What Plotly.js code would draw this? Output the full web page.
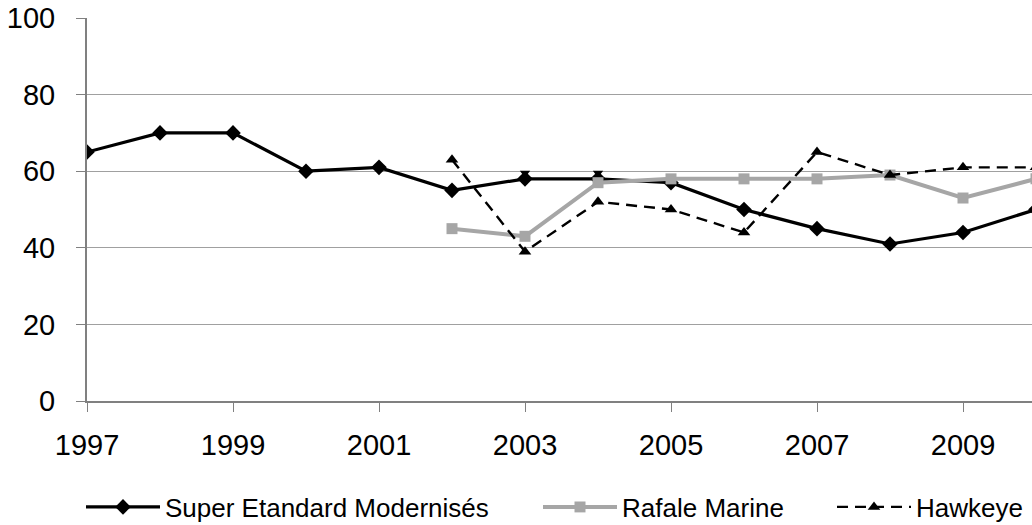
<!DOCTYPE html>
<html>
<head>
<meta charset="utf-8">
<script src="https://cdn.plot.ly/plotly-3.0.1.min.js"></script>
<style>html,body{margin:0;padding:0;background:#fff;}#chart{width:1032px;height:525px;}</style>
</head>
<body>
<div id="chart"></div>
<script>
const years = [1997,1998,1999,2000,2001,2002,2003,2004,2005,2006,2007,2008,2009,2010];
const superEtandard = [65,70,70,60,61,55,58,58,57,50,45,41,44,50];
const rafaleYears = [2002,2003,2004,2005,2006,2007,2008,2009,2010];
const rafaleMarine = [45,43,57,58,58,58,59,53,58];
const hawkeyeYears = [2002,2003,2004,2005,2006,2007,2008,2009,2010];
const hawkeye = [63,39,52,50,44,65,59,61,61];
const hiddenYears = [2003,2004];
const hiddenValues = [59.5,59.5];
const seriesNames = ['Super Etandard Modernisés','Rafale Marine','Hawkeye'];
const yTicks = [0,20,40,60,80,100];
const xTicks = [1997,1999,2001,2003,2005,2007,2009];

const FONT = 'Liberation Sans, Arial, sans-serif';
const plotL = 87, plotW = 945, plotT = 18, plotH = 383;
function px2x(px){ return (px - plotL) / plotW; }
function py2y(py){ return (plotT + plotH - py) / plotH; }

const traces = [
  {x: hiddenYears, y: hiddenValues, mode: 'markers', showlegend: false, hoverinfo: 'skip',
   marker: {symbol: 'triangle-down', size: 9, color: '#000'}},
  {x: years, y: superEtandard, name: seriesNames[0], mode: 'lines+markers', legend: 'legend',
   line: {color: '#000', width: 3.2},
   marker: {symbol: 'diamond', size: 12, color: '#000'}},
  {x: rafaleYears, y: rafaleMarine, name: seriesNames[1], mode: 'lines+markers', legend: 'legend2',
   line: {color: '#a6a6a6', width: 4},
   marker: {symbol: 'square', size: 11, color: '#a6a6a6'}},
  {x: hawkeyeYears, y: hawkeye, name: seriesNames[2], mode: 'lines+markers', legend: 'legend3',
   line: {color: '#000', width: 2.4, dash: '11px,7px'},
   marker: {symbol: 'triangle-up', size: 11, color: '#000'}}
];

const legendBase = {orientation: 'h', yanchor: 'middle', xanchor: 'left', bgcolor: 'rgba(0,0,0,0)',
  font: {family: FONT, size: 26, color: '#000'}, itemwidth: 74, borderwidth: 0};

const layout = {
  width: 1032, height: 525,
  margin: {l: plotL, r: 0, t: plotT, b: 525 - plotT - plotH, pad: 0, autoexpand: false},
  paper_bgcolor: '#fff', plot_bgcolor: '#fff',
  font: {family: FONT, color: '#000'},
  xaxis: {range: [1997, 1997 + (1032 - plotL) / 73], tickvals: xTicks, ticktext: xTicks.map(String),
    showgrid: false, zeroline: false, showline: true, linecolor: '#808080', linewidth: 2,
    ticks: 'outside', ticklen: 9, tickcolor: '#808080', tickwidth: 1, automargin: false,
    ticklabelstandoff: 8, tickfont: {family: FONT, size: 29, color: '#000'}},
  yaxis: {range: [0, 100], tickvals: yTicks, ticktext: yTicks.map(String),
    showgrid: true, gridcolor: '#a0a0a0', gridwidth: 1, zeroline: false,
    showline: true, linecolor: '#808080', linewidth: 2, automargin: false,
    ticks: 'outside', ticklen: 9, tickcolor: '#808080', tickwidth: 1,
    ticklabelstandoff: 15, tickfont: {family: FONT, size: 29, color: '#000'}},
  legend: Object.assign({}, legendBase, {x: px2x(81), y: py2y(507)}),
  legend2: Object.assign({}, legendBase, {x: px2x(538), y: py2y(507)}),
  legend3: Object.assign({}, legendBase, {x: px2x(832), y: py2y(507)}),
  showlegend: true
};

Plotly.newPlot('chart', traces, layout, {displayModeBar: false, staticPlot: true});
</script>
</body>
</html>
